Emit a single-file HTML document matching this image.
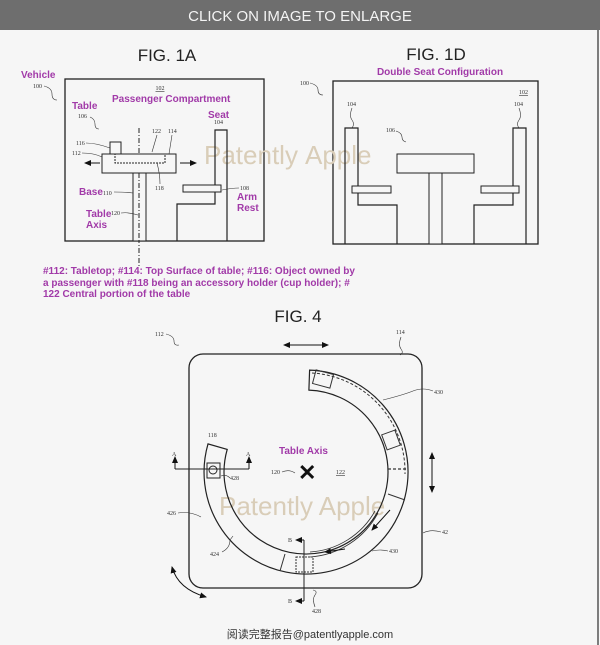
<!DOCTYPE html>
<html><head><meta charset="utf-8"><style>
html,body{margin:0;padding:0;background:#f5f5f5;}
svg{display:block;}
text{font-family:"Liberation Sans","Noto Sans CJK SC",sans-serif;}
.p{fill:#a13aa8;font-weight:bold;font-size:10px;}
.n{font-family:"Liberation Serif",serif;font-size:6px;fill:#333;}
.wm{fill:#d9cdb8;font-size:26px;}
</style></head><body>
<svg width="600" height="645" viewBox="0 0 600 645" xmlns="http://www.w3.org/2000/svg">
<defs>
<marker id="ar" markerWidth="8" markerHeight="8" refX="6" refY="3" orient="auto"><path d="M0,0 L7,3 L0,6 z" fill="#111"/></marker>
<marker id="as" markerWidth="8" markerHeight="8" refX="6" refY="3" orient="auto-start-reverse"><path d="M0,0 L7,3 L0,6 z" fill="#111"/></marker>
</defs>
<rect width="600" height="645" fill="#f6f6f6"/>
<rect width="600" height="30" fill="#6e6e6e"/>
<text x="300" y="21" text-anchor="middle" fill="#f4f4f4" font-size="15">CLICK ON IMAGE TO ENLARGE</text>
<line x1="598" y1="30" x2="598" y2="645" stroke="#555" stroke-width="1.5"/>

<!-- FIG 1A -->
<text x="167" y="61" text-anchor="middle" font-size="17" fill="#222">FIG. 1A</text>
<text x="21" y="78" class="p" font-size="9">Vehicle</text>
<text x="33" y="88" class="n">100</text>
<path d="M44 86 q8 2 8 8 t5 6" fill="none" stroke="#333" stroke-width="0.6"/>
<rect x="65" y="79" width="199" height="162" fill="none" stroke="#222" stroke-width="1.3"/>
<text x="160" y="90" class="n" text-anchor="middle" text-decoration="underline">102</text>
<text x="112" y="102" class="p">Passenger Compartment</text>
<text x="72" y="109" class="p">Table</text>
<text x="78" y="118" class="n">106</text>
<path d="M90 117 q5 2 5 7 t4 5" fill="none" stroke="#333" stroke-width="0.6"/>
<text x="208" y="118" class="p">Seat</text>
<text x="214" y="124" class="n">104</text>
<text x="204" y="164" class="wm">Patently</text>
<line x1="139" y1="128" x2="139" y2="266" stroke="#222" stroke-width="1" stroke-dasharray="5,2,1,2"/>
<rect x="110" y="142" width="11" height="12" fill="#f6f6f6" stroke="#222"/>
<rect x="102" y="154" width="74" height="19" fill="#f6f6f6" stroke="#222"/>
<rect x="115" y="154" width="50" height="9" fill="none" stroke="#222" stroke-dasharray="2,1"/>
<rect x="133" y="173" width="13" height="68" fill="#f6f6f6" stroke="#222"/>
<line x1="139" y1="173" x2="139" y2="241" stroke="#222" stroke-width="1" stroke-dasharray="5,2,1,2"/>
<line x1="100" y1="163" x2="85" y2="163" stroke="#111" marker-end="url(#ar)"/>
<line x1="180" y1="163" x2="196" y2="163" stroke="#111" marker-end="url(#ar)"/>
<text x="76" y="145" class="n">116</text><path d="M86 143 q10 0 24 5" fill="none" stroke="#333" stroke-width="0.6"/>
<text x="72" y="155" class="n">112</text><path d="M82 153 q12 0 20 4" fill="none" stroke="#333" stroke-width="0.6"/>
<text x="152" y="133" class="n">122</text><text x="168" y="133" class="n">114</text>
<path d="M157 135 l-5 17" fill="none" stroke="#333" stroke-width="0.6"/><path d="M172 135 l-3 19" fill="none" stroke="#333" stroke-width="0.6"/>
<text x="155" y="190" class="n">118</text><path d="M160 184 q0 -10 -3 -21" fill="none" stroke="#333" stroke-width="0.6"/>
<text x="79" y="195" class="p">Base</text><text x="103" y="195" class="n">110</text>
<path d="M114 192 q12 0 19 1" fill="none" stroke="#333" stroke-width="0.6"/>
<text x="86" y="217" class="p">Table</text><text x="86" y="228" class="p">Axis</text>
<text x="111" y="215" class="n">120</text><path d="M121 213 q8 -1 17 2" fill="none" stroke="#333" stroke-width="0.6"/>
<path d="M177 241 V204 H215 V130 H227 V241" fill="none" stroke="#222" stroke-width="1.2"/>
<rect x="183" y="185" width="38" height="7" fill="#f6f6f6" stroke="#222"/>
<text x="240" y="190" class="n">108</text><path d="M222 190 q10 -2 17 -2" fill="none" stroke="#333" stroke-width="0.6"/>
<text x="237" y="200" class="p">Arm</text><text x="237" y="211" class="p">Rest</text>

<text x="43" y="274" class="p" font-size="9">#112: Tabletop; #114: Top Surface of table; #116: Object owned by</text>
<text x="43" y="286" class="p" font-size="9">a passenger with #118 being an accessory holder (cup holder); #</text>
<text x="43" y="297" class="p" font-size="9">122 Central portion of the table</text>

<!-- FIG 1D -->
<text x="436" y="60" text-anchor="middle" font-size="17" fill="#222">FIG. 1D</text>
<text x="440" y="75" class="p" font-size="8" text-anchor="middle">Double Seat Configuration</text>
<text x="300" y="85" class="n">100</text>
<path d="M310 83 q8 2 8 7 t5 5" fill="none" stroke="#333" stroke-width="0.6"/>
<rect x="333" y="81" width="205" height="163" fill="none" stroke="#222" stroke-width="1.3"/>
<text x="519" y="94" class="n" text-decoration="underline">102</text>
<text x="347" y="106" class="n">104</text><text x="514" y="106" class="n">104</text>
<path d="M352 108 q-3 8 0 12 t0 8" fill="none" stroke="#333" stroke-width="0.6"/>
<path d="M519 108 q3 8 0 12 t0 8" fill="none" stroke="#333" stroke-width="0.6"/>
<text x="386" y="132" class="n">106</text><path d="M396 131 q6 2 6 6 t4 5" fill="none" stroke="#333" stroke-width="0.6"/>
<text x="305" y="164" class="wm">Apple</text>
<path d="M345 244 V128 H358 V205 H397 V244" fill="none" stroke="#222" stroke-width="1.2"/>
<rect x="352" y="186" width="39" height="7" fill="#f6f6f6" stroke="#222"/>
<path d="M526 244 V128 H513 V205 H474 V244" fill="none" stroke="#222" stroke-width="1.2"/>
<rect x="481" y="186" width="38" height="7" fill="#f6f6f6" stroke="#222"/>
<rect x="397" y="154" width="77" height="19" fill="#f6f6f6" stroke="#222"/>
<rect x="429" y="173" width="13" height="71" fill="#f6f6f6" stroke="#222"/>

<!-- FIG 4 -->
<text x="298" y="322" text-anchor="middle" font-size="17" fill="#222">FIG. 4</text>
<text x="155" y="336" class="n">112</text>
<path d="M166 334 q8 2 8 7 t5 4" fill="none" stroke="#333" stroke-width="0.6"/>
<text x="396" y="334" class="n">114</text><path d="M401 337 q-3 8 0 12 t-1 6" fill="none" stroke="#333" stroke-width="0.6"/>
<rect x="189" y="354" width="233" height="234" rx="14" fill="none" stroke="#222" stroke-width="1.3"/>
<line x1="284" y1="345" x2="328" y2="345" stroke="#111" marker-start="url(#as)" marker-end="url(#as)"/>
<line x1="432" y1="453" x2="432" y2="492" stroke="#111" marker-start="url(#as)" marker-end="url(#as)"/>
<path d="M172 567 q6 22 34 30" fill="none" stroke="#111" marker-start="url(#as)" marker-end="url(#as)"/>
<text x="219" y="515" class="wm" font-size="27">Patently Apple</text>
<path d="M309.6 370.1 A102 102 0 1 1 208 443.9 L227.2 449.4 A82 82 0 1 0 308.9 390.1 Z" fill="none" stroke="#222" stroke-width="1.2"/>
<path d="M312 373 A99 99 0 0 1 405 474" fill="none" stroke="#333" stroke-width="1" stroke-dasharray="3,2"/>
<path d="M378 513 A84 84 0 0 1 310 557" fill="none" stroke="#333" stroke-width="0.8"/>
<path d="M375 511 A80 80 0 0 1 310 552" fill="none" stroke="#333" stroke-width="0.8"/>
<line x1="390" y1="510" x2="372" y2="530" stroke="#111" marker-end="url(#ar)"/>
<line x1="345" y1="549" x2="325" y2="552" stroke="#111" marker-end="url(#ar)"/>
<rect x="314" y="372" width="18" height="14" fill="none" stroke="#333" transform="rotate(15 323 379)"/>
<rect x="384" y="432" width="14" height="16" fill="none" stroke="#333" transform="rotate(-20 391 440)"/>
<line x1="388" y1="469" x2="407" y2="469" stroke="#333" stroke-dasharray="3,2" stroke-width="1.2"/>
<line x1="388" y1="494" x2="405" y2="500" stroke="#333"/>
<line x1="285" y1="554" x2="280" y2="571" stroke="#333"/>
<rect x="296" y="557" width="17" height="15" fill="none" stroke="#333" stroke-dasharray="2,1"/>
<rect x="207" y="463" width="13" height="15" fill="none" stroke="#222"/>
<circle cx="213" cy="470" r="4" fill="none" stroke="#222"/>
<line x1="175" y1="469" x2="249" y2="469" stroke="#222"/>
<line x1="175" y1="469" x2="175" y2="457" stroke="#111" marker-end="url(#ar)"/>
<line x1="249" y1="469" x2="249" y2="457" stroke="#111" marker-end="url(#ar)"/>
<text x="172" y="456" class="n">A</text><text x="246" y="456" class="n">A</text>
<line x1="304" y1="540" x2="304" y2="601" stroke="#222"/>
<line x1="304" y1="540" x2="296" y2="540" stroke="#111" marker-end="url(#ar)"/>
<line x1="304" y1="601" x2="296" y2="601" stroke="#111" marker-end="url(#ar)"/>
<text x="288" y="542" class="n">B</text><text x="288" y="603" class="n">B</text>
<text x="208" y="437" class="n">118</text>
<text x="230" y="480" class="n">428</text><path d="M221 476 q5 -2 9 2" fill="none" stroke="#333" stroke-width="0.6"/>
<text x="312" y="613" class="n">428</text><path d="M315 607 q-3 -8 0 -12 t-2 -5" fill="none" stroke="#333" stroke-width="0.6"/>
<text x="279" y="454" class="p" font-size="9">Table Axis</text>
<text x="271" y="474" class="n">120</text><path d="M282 472 q7 -3 13 1" fill="none" stroke="#333" stroke-width="0.6"/>
<text x="298" y="480" font-size="22" font-weight="bold" fill="#111">✕</text>
<text x="336" y="474" class="n" text-decoration="underline">122</text>
<text x="434" y="394" class="n">430</text><path d="M383 400 q20 -5 30 -9 t20 0" fill="none" stroke="#333" stroke-width="0.6"/>
<text x="389" y="553" class="n">430</text><path d="M372 551 q8 -2 16 0" fill="none" stroke="#333" stroke-width="0.6"/>
<text x="442" y="534" class="n">42</text><path d="M423 533 q8 -4 18 -1" fill="none" stroke="#333" stroke-width="0.6"/>
<text x="167" y="515" class="n">426</text><path d="M178 513 q12 -2 23 4" fill="none" stroke="#333" stroke-width="0.6"/>
<text x="210" y="556" class="n">424</text><path d="M222 552 q8 -4 8 -12 l3 -4" fill="none" stroke="#333" stroke-width="0.6"/>

<text x="310" y="638" text-anchor="middle" font-size="11" fill="#333">阅读完整报告@patentlyapple.com</text>
</svg>
</body></html>
